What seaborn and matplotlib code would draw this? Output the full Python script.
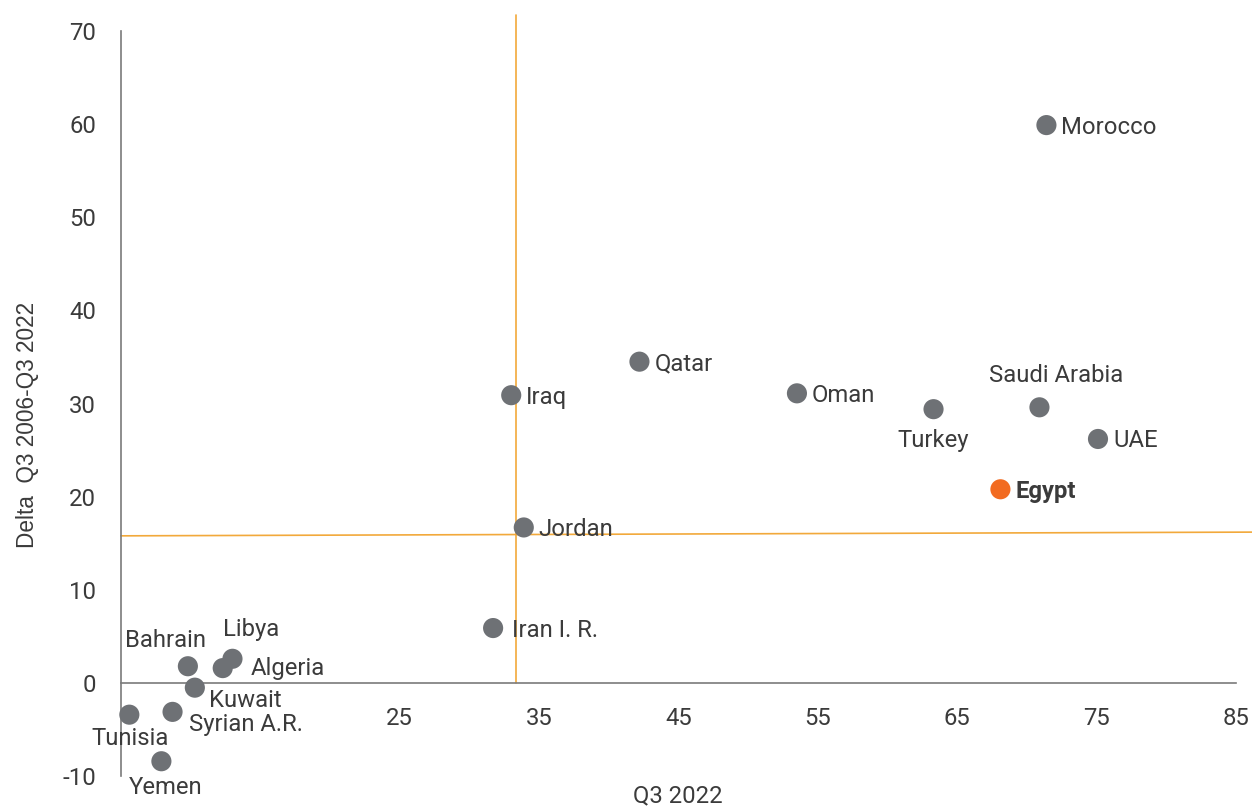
import numpy as np
import pandas as pd
import matplotlib
matplotlib.use("Agg")
import matplotlib.pyplot as plt
import seaborn as sns

# Data
countries = ["Morocco", "Qatar", "Iraq", "Oman", "Turkey", "Saudi Arabia", "UAE",
             "Egypt", "Jordan", "Iran I. R.", "Libya", "Algeria", "Bahrain",
             "Kuwait", "Syrian A.R.", "Tunisia", "Yemen"]
q3_2022 = [71.4, 42.2, 33.0, 53.5, 63.3, 70.9, 75.1,
           68.1, 33.9, 31.7, 13.0, 12.3, 9.8,
           10.3, 8.7, 5.6, 7.9]
delta = [59.9, 34.5, 30.9, 31.1, 29.4, 29.6, 26.2,
         20.8, 16.7, 5.9, 2.6, 1.6, 1.8,
         -0.5, -3.1, -3.4, -8.4]

# reference (average) lines
avg_x = 33.35
avg_x_top = 71.7
avg_y_left = 15.8
avg_y_right = 16.2

x_ticks = [25, 35, 45, 55, 65, 75, 85]
y_ticks = [-10, 0, 10, 20, 30, 40, 50, 60, 70]

df = pd.DataFrame({"country": countries, "q3_2022": q3_2022, "delta": delta})
df["group"] = np.where(df["country"] == "Egypt", "Egypt", "Other")

sns.set_theme(style="white")
plt.rcParams["font.family"] = ["Roboto", "DejaVu Sans"]
plt.rcParams["axes.unicode_minus"] = False

text_col = "#3b3b3b"
grey = "#6e7175"
orange = "#f26b21"
line_col = "#f2a93b"
fs = 17.2

fig = plt.figure(figsize=(12.52, 8.08), dpi=100)
ax = fig.add_axes([0, 0, 1, 1])

ax.plot([avg_x, avg_x], [0, avg_x_top], color=line_col, lw=1.2, zorder=1)
ax.plot([5, 86.15], [avg_y_left, avg_y_right], color=line_col, lw=1.2, zorder=1)

sns.scatterplot(data=df, x="q3_2022", y="delta", hue="group",
                palette={"Other": grey, "Egypt": orange}, s=210,
                linewidth=0, legend=False, ax=ax, zorder=3)

# label offsets in pixels (dx, dy, ha, va)
offsets = {
    "Saudi Arabia": (17, 32, "center", "center"),
    "Turkey": (0, -31, "center", "center"),
    "Libya": (19, 29, "center", "center"),
    "Algeria": (28, 0, "left", "center"),
    "Bahrain": (-22, 26, "center", "center"),
    "Kuwait": (14, -13, "left", "center"),
    "Syrian A.R.": (16, -13, "left", "center"),
    "Tunisia": (1, -24, "center", "center"),
    "Yemen": (4, -26, "center", "center"),
    "Iran I. R.": (19, -2, "left", "center"),
}
for c, xv, yv in zip(countries, q3_2022, delta):
    dx, dy, ha, va = offsets.get(c, (15, -2, "left", "center"))
    ax.annotate(c, (xv, yv), xytext=(dx, dy), textcoords="offset pixels",
                ha=ha, va=va, fontsize=fs, color=text_col,
                fontweight="bold" if c == "Egypt" else "normal", zorder=4)

ax.set_xlim(-3.68, 86.15)
ax.set_ylim(-13.42, 73.33)
ax.set_xticks(x_ticks)
ax.set_yticks(y_ticks)
ax.tick_params(axis="both", length=0, labelsize=fs, labelcolor=text_col)
ax.tick_params(axis="x", pad=17)
ax.tick_params(axis="y", pad=18)

for s in ["top", "right"]:
    ax.spines[s].set_visible(False)
ax.spines["left"].set_position(("data", 5))
ax.spines["bottom"].set_position(("data", 0))
ax.spines["left"].set_bounds(-10, 70)
ax.spines["bottom"].set_bounds(5, 85)
for s in ["left", "bottom"]:
    ax.spines[s].set_color("#7a7a7a")
    ax.spines[s].set_linewidth(1.2)
ax.set_xlabel("")
ax.set_ylabel("")
ax.patch.set_alpha(0)

fig.text(678 / 1252, 1 - 796 / 808, "Q3 2022", ha="center", va="center",
         fontsize=fs, color=text_col)
fig.text(28 / 1252, 1 - 425 / 808, "Delta  Q3 2006-Q3 2022", rotation=90,
         ha="center", va="center", fontsize=16.3, color=text_col,
         family=["Liberation Sans", "DejaVu Sans"])

fig.savefig("out.png", dpi=100)
